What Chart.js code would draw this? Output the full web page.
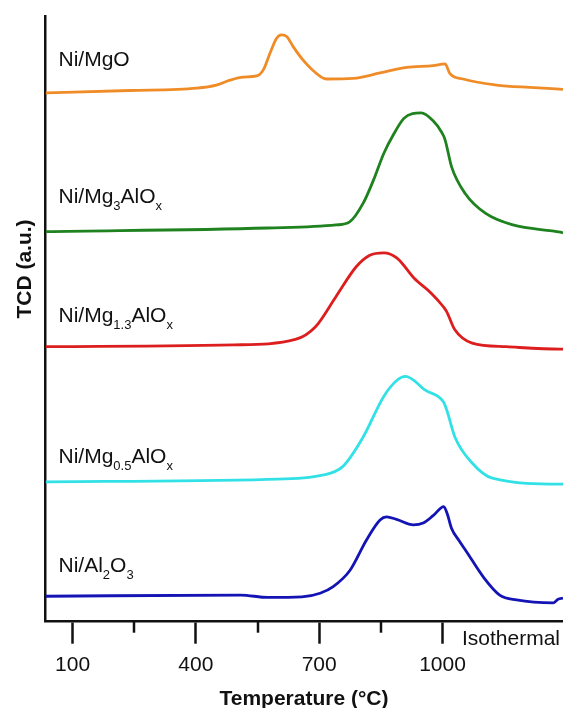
<!DOCTYPE html>
<html>
<head>
<meta charset="utf-8">
<script src="https://cdn.jsdelivr.net/npm/chart.js@4"></script>
<style>
  html, body { margin: 0; padding: 0; background: #fff; }
</style>
</head>
<body>
<canvas id="tpr" width="563" height="708"></canvas>
<script>
// x = temperature in °C (past 1000 the ramp stops and it is isothermal), y = TCD signal in a.u. (profiles stacked)
const tempMgO = [35, 239, 402, 450, 483, 515, 548, 564, 580, 596, 608, 621, 637, 661, 685, 718, 783, 848, 913, 977, 1006, 1018, 1050, 1131, 1212, 1293];
const tcdMgO  = [87.3, 87.7, 88.1, 88.6, 89.4, 89.9, 90.1, 91.1, 93.8, 96.3, 96.9, 96.6, 94.9, 92.7, 91.0, 89.6, 89.7, 90.6, 91.5, 91.8, 92.1, 90.5, 89.6, 88.6, 88.2, 87.9];

const tempMg3 = [35, 575, 741, 774, 807, 832, 857, 882, 906, 927, 948, 977, 997, 1006, 1022, 1055, 1105, 1171, 1287, 1293];
const tcdMg3  = [64.4, 65.0, 65.5, 66.0, 69.1, 72.9, 77.3, 80.6, 83.1, 83.9, 84.0, 82.7, 80.9, 79.6, 75.1, 70.7, 67.4, 65.5, 64.3, 64.2];

const tempMg13 = [35, 493, 642, 691, 741, 790, 823, 857, 890, 931, 973, 1002, 1010, 1030, 1072, 1155, 1287, 1293];
const tcdMg13  = [45.4, 45.7, 46.6, 48.7, 53.7, 58.6, 60.5, 60.9, 60.0, 56.7, 54.2, 52.0, 51.2, 48.2, 46.0, 45.4, 45.0, 45.0];

const tempMg05 = [35, 575, 708, 757, 807, 857, 890, 910, 931, 956, 1002, 1010, 1030, 1072, 1121, 1287, 1293];
const tcdMg05  = [23.1, 23.5, 24.2, 25.6, 30.5, 37.2, 39.9, 40.5, 39.8, 38.3, 36.3, 35.0, 30.5, 26.2, 23.7, 22.7, 22.7];

const tempAl = [35, 509, 575, 658, 702, 734, 775, 815, 848, 864, 888, 929, 953, 977, 1003, 1011, 1022, 1040, 1058, 1099, 1139, 1180, 1269, 1281, 1293];
const tcdAl  = [4.2, 4.4, 4.0, 4.1, 4.7, 5.8, 8.5, 13.5, 16.8, 17.3, 16.9, 16.0, 16.3, 17.5, 19.0, 17.9, 15.4, 13.4, 11.6, 7.4, 4.4, 3.6, 3.1, 3.7, 3.9];

const majorTicks = [100, 400, 700, 1000];
const minorTicks = [250, 550, 850];

// sample names, [text, isSubscript]
const sampleNames = [
  [['Ni/MgO', false]],
  [['Ni/Mg', false], ['3', true], ['AlO', false], ['x', true]],
  [['Ni/Mg', false], ['1.3', true], ['AlO', false], ['x', true]],
  [['Ni/Mg', false], ['0.5', true], ['AlO', false], ['x', true]],
  [['Ni/Al', false], ['2', true], ['O', false], ['3', true]]
];

const FONT = '"Liberation Sans", Arial, sans-serif';
Chart.defaults.font.family = FONT;
Chart.defaults.color = '#111';

function toPoints(xs, ys) {
  return xs.map((t, i) => ({ x: t, y: ys[i] }));
}

function line(label, xs, ys, color) {
  return {
    label: label,
    data: toPoints(xs, ys),
    borderColor: color,
    borderWidth: 2.8,
    pointRadius: 0,
    fill: false,
    cubicInterpolationMode: 'monotone'
  };
}

const extras = {
  id: 'extras',
  afterDraw(chart) {
    const ctx = chart.ctx;
    const area = chart.chartArea;
    const x = chart.scales.x;
    ctx.save();

    // short unlabelled ticks
    ctx.strokeStyle = '#111';
    ctx.lineWidth = 2.5;
    minorTicks.forEach(t => {
      const px = Math.round(x.getPixelForValue(t));
      ctx.beginPath();
      ctx.moveTo(px, area.bottom);
      ctx.lineTo(px, area.bottom + 11);
      ctx.stroke();
    });

    ctx.fillStyle = '#111';
    ctx.textBaseline = 'middle';
    ctx.textAlign = 'left';
    ctx.font = '21px ' + FONT;
    ctx.fillText('Isothermal', 462, 639);

    // y title
    ctx.save();
    ctx.translate(25, 269);
    ctx.rotate(-Math.PI / 2);
    ctx.textAlign = 'center';
    ctx.font = 'bold 21px ' + FONT;
    ctx.fillText('TCD (a.u.)', 0, 0);
    ctx.restore();

    // names next to each profile
    const baselines = [65.7, 203.3, 321.7, 463.3, 571.7];
    ctx.textBaseline = 'alphabetic';
    sampleNames.forEach((parts, i) => {
      let px = 58.5;
      parts.forEach(([txt, sub]) => {
        ctx.font = (sub ? '13px ' : '21px ') + FONT;
        ctx.fillText(txt, px, baselines[i] + (sub ? 7 : 0));
        px += ctx.measureText(txt).width;
      });
    });
    ctx.restore();
  }
};

new Chart(document.getElementById('tpr'), {
  type: 'line',
  data: {
    datasets: [
      line('Ni/MgO', tempMgO, tcdMgO, '#f08c28'),
      line('Ni/Mg3AlOx', tempMg3, tcdMg3, '#1e821e'),
      line('Ni/Mg1.3AlOx', tempMg13, tcdMg13, '#dc1e1e'),
      line('Ni/Mg0.5AlOx', tempMg05, tcdMg05, '#32e1e6'),
      line('Ni/Al2O3', tempAl, tcdAl, '#1414b4')
    ]
  },
  options: {
    responsive: false,
    animation: false,
    layout: { padding: { top: 16, left: 0, right: 0, bottom: 0 } },
    plugins: {
      legend: { display: false },
      tooltip: { enabled: false }
    },
    scales: {
      x: {
        type: 'linear',
        min: 33,
        max: 1293,
        afterBuildTicks: scale => {
          scale.ticks = majorTicks.map(v => ({ value: v }));
        },
        afterFit: scale => { scale.height = 86.3; },
        ticks: {
          font: { size: 21 },
          padding: 9,
          maxRotation: 0,
          autoSkip: false,
          callback: value => String(value)
        },
        grid: {
          display: true,
          drawOnChartArea: false,
          drawTicks: true,
          tickLength: 22,
          tickWidth: 2.5,
          tickColor: '#111'
        },
        border: { display: true, color: '#111', width: 2.5 },
        title: {
          display: true,
          text: 'Temperature (°C)',
          font: { size: 21, weight: 'bold', lineHeight: 1 },
          padding: { top: 0, bottom: -2 }
        }
      },
      y: {
        min: 0,
        max: 100,
        afterFit: scale => { scale.width = 45; },
        ticks: { display: false },
        grid: { display: false },
        border: { display: true, color: '#111', width: 2.5 }
      }
    }
  },
  plugins: [extras]
});
</script>
</body>
</html>
